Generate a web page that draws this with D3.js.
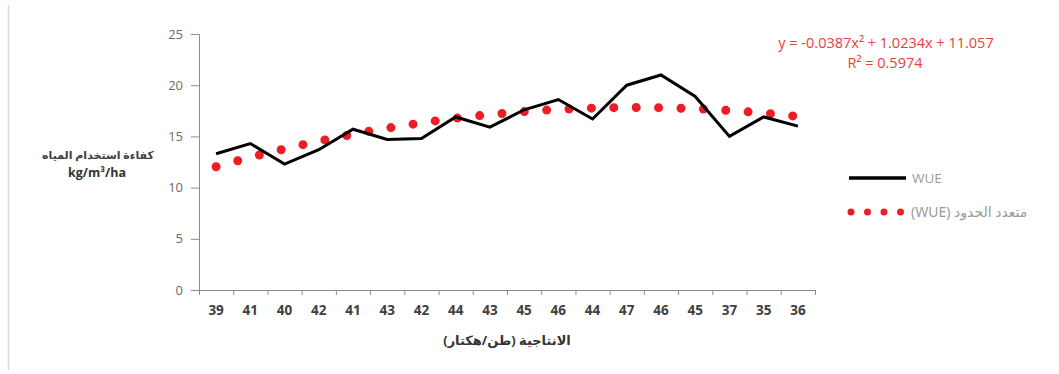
<!DOCTYPE html>
<html>
<head>
<meta charset="utf-8">
<script src="https://cdn.jsdelivr.net/npm/d3@7"></script>
<style>
  html, body { margin: 0; padding: 0; background: #fff; }
  svg { display: block; }
</style>
</head>
<body>
<svg id="chart" width="1059" height="374"></svg>
<script>
// Productivity categories (tonnes/hectare), in plotted order
const categories = ["39","41","40","42","41","43","42","44","43","45","46","44","47","46","45","37","35","36"];
// Water use efficiency (kg/m³/ha)
const wueValues = [13.3, 14.3, 12.3, 13.7, 15.7, 14.7, 14.8, 16.9, 15.9, 17.6, 18.6, 16.7, 20.0, 21.0, 18.9, 15.0, 16.9, 16.0];
// Second-order polynomial trend of WUE at each category
const trendValues = [12.04, 12.95, 13.78, 14.53, 15.21, 15.80, 16.32, 16.77, 17.13, 17.42, 17.63, 17.76, 17.82, 17.80, 17.70, 17.53, 17.27, 16.95];
const yTicks = [0, 5, 10, 15, 20, 25];

const svg = d3.select("#chart");
const plotLeft = 199, plotRight = 815, plotTop = 34, plotBottom = 290;

// thin frame edge on the left
svg.append("line")
  .attr("x1", 8.5).attr("x2", 8.5).attr("y1", 5).attr("y2", 370)
  .attr("stroke", "#d9d9d9").attr("stroke-width", 1.5);

const idx = d3.range(categories.length);
const x = d3.scaleBand().domain(idx).range([plotLeft, plotRight]).padding(0);
const xEdge = d3.scaleLinear().domain([0, categories.length]).range([plotLeft, plotRight]);
const y = d3.scaleLinear().domain([0, 25]).range([plotBottom, plotTop]);

// y axis
const yAxis = svg.append("g")
  .attr("transform", `translate(${plotLeft},0)`)
  .call(d3.axisLeft(y).tickValues(yTicks).tickSize(8).tickPadding(8));
yAxis.select(".domain").attr("stroke", "#8c8c8c");
yAxis.selectAll(".tick line").attr("stroke", "#8c8c8c");
yAxis.selectAll(".tick text")
  .attr("fill", "#6b6b6b")
  .style("font-family", "'Open Sans', sans-serif")
  .style("font-size", "13px");

// x axis: boundary ticks between categories
const xTickAxis = svg.append("g")
  .attr("transform", `translate(0,${plotBottom})`)
  .call(d3.axisBottom(xEdge).tickValues(d3.range(categories.length + 1)).tickSize(5).tickSizeOuter(0).tickFormat(""));
xTickAxis.select(".domain").attr("stroke", "#8c8c8c");
xTickAxis.selectAll(".tick line").attr("stroke", "#8c8c8c");

// x axis: category labels
const xLabelAxis = svg.append("g")
  .attr("transform", `translate(0,${plotBottom})`)
  .call(d3.axisBottom(x).tickSize(0).tickPadding(15).tickFormat(i => categories[i]));
xLabelAxis.select(".domain").remove();
xLabelAxis.selectAll(".tick text")
  .attr("fill", "#404040")
  .style("font-family", "'Open Sans', sans-serif")
  .style("font-weight", "bold")
  .style("font-size", "13.5px");

const cx = i => x(i) + x.bandwidth() / 2;

// trend line (round dots)
svg.append("path")
  .datum(trendValues)
  .attr("fill", "none")
  .attr("stroke", "#ee1c24")
  .attr("stroke-width", 9)
  .attr("stroke-linecap", "round")
  .attr("stroke-dasharray", "0 22.4")
  .attr("d", d3.line().x((d, i) => cx(i)).y(d => y(d)).curve(d3.curveNatural));

// WUE line
svg.append("path")
  .datum(wueValues)
  .attr("fill", "none")
  .attr("stroke", "#000")
  .attr("stroke-width", 3)
  .attr("stroke-linejoin", "miter")
  .attr("d", d3.line().x((d, i) => cx(i)).y(d => y(d)));

// y axis title
svg.append("text")
  .attr("x", 98).attr("y", 159)
  .attr("text-anchor", "middle")
  .attr("direction", "rtl")
  .attr("fill", "#404040")
  .style("font-family", "'Noto Sans', 'DejaVu Sans', sans-serif")
  .style("font-weight", "bold")
  .style("font-size", "11px")
  .text("كفاءة استخدام المياه");
svg.append("text")
  .attr("x", 97).attr("y", 177)
  .attr("text-anchor", "middle")
  .attr("fill", "#333")
  .style("font-family", "'Open Sans', sans-serif")
  .style("font-weight", "bold")
  .style("font-size", "12.5px")
  .text("kg/m³/ha");

// x axis title
svg.append("text")
  .attr("x", (plotLeft + plotRight) / 2).attr("y", 345)
  .attr("text-anchor", "middle")
  .attr("direction", "rtl")
  .attr("fill", "#333")
  .style("font-family", "'Noto Sans', 'DejaVu Sans', sans-serif")
  .style("font-weight", "bold")
  .style("font-size", "13px")
  .text("الانتاجية (طن/هكتار)");

// trend equation
const eq = svg.append("g")
  .attr("fill", "#e8413c")
  .style("font-family", "'Open Sans', sans-serif")
  .style("font-size", "14.5px");
eq.append("text").attr("x", 886).attr("y", 48).attr("text-anchor", "middle")
  .text("y = -0.0387x² + 1.0234x + 11.057");
eq.append("text").attr("x", 885).attr("y", 68).attr("text-anchor", "middle")
  .text("R² = 0.5974");

// legend
const legend = svg.append("g");
legend.append("line")
  .attr("x1", 849).attr("x2", 906).attr("y1", 178).attr("y2", 178)
  .attr("stroke", "#000").attr("stroke-width", 3.5);
legend.append("text")
  .attr("x", 912).attr("y", 183)
  .attr("fill", "#9a9a9a")
  .style("font-family", "'Open Sans', sans-serif")
  .style("font-size", "13.5px")
  .text("WUE");
legend.append("line")
  .attr("x1", 851).attr("x2", 901).attr("y1", 212).attr("y2", 212)
  .attr("stroke", "#ee1c24").attr("stroke-width", 7)
  .attr("stroke-linecap", "round").attr("stroke-dasharray", "0 16.5");
legend.append("text")
  .attr("x", 911).attr("y", 217)
  .attr("direction", "rtl")
  .attr("text-anchor", "end")
  .attr("fill", "#9a9a9a")
  .style("font-family", "'Noto Sans', 'DejaVu Sans', sans-serif")
  .style("font-size", "14px")
  .text("متعدد الحدود (WUE)");
</script>
</body>
</html>
